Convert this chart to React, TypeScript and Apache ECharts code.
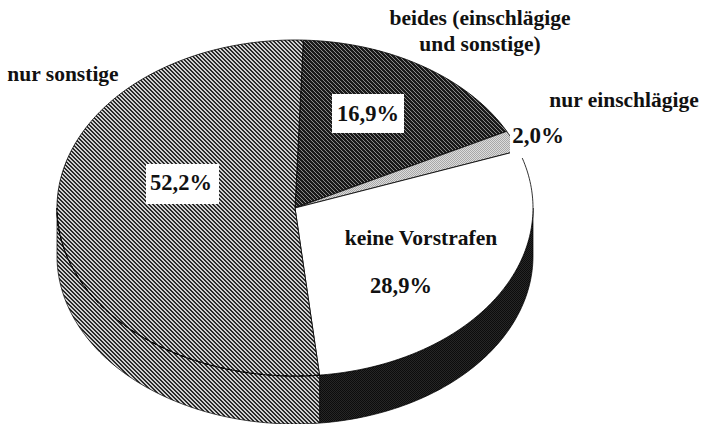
import React, { useEffect, useRef } from "react";
import * as echarts from "echarts";

const categories = ["beides (einschlägige\nund sonstige)", "nur einschlägige", "keine Vorstrafen", "nur sonstige"];
const values = [16.9, 2.0, 28.9, 52.2];

const START_DEG = 2;
const CX = 295, CY = 208, RX = 238, RY = 168, DEPTH = 48;
const FONT = '"Liberation Serif", "Times New Roman", serif';

function hatch(period: number, dark: number, a: string, b: string) {
  const c = document.createElement("canvas");
  c.width = period; c.height = period;
  const g = c.getContext("2d")!;
  for (let x = 0; x < period; x++) for (let y = 0; y < period; y++) {
    g.fillStyle = ((x - y + period) % period) < dark ? a : b;
    g.fillRect(x, y, 1, 1);
  }
  return { image: c, repeat: "repeat", imageWidth: period, imageHeight: period } as any;
}
function dots(a: string, b: string) {
  const c = document.createElement("canvas");
  c.width = 2; c.height = 2;
  const g = c.getContext("2d")!;
  g.fillStyle = b; g.fillRect(0, 0, 2, 2);
  g.fillStyle = a; g.fillRect(0, 0, 1, 1); g.fillRect(1, 1, 1, 1);
  return { image: c, repeat: "repeat", imageWidth: 2, imageHeight: 2 } as any;
}

const pt = (deg: number, dy = 0): number[] => {
  const t = (deg * Math.PI) / 180;
  return [CX + RX * Math.sin(t), CY - RY * Math.cos(t) + dy];
};
const arc = (a: number, b: number, dy = 0): number[][] => {
  const out: number[][] = [];
  const n = Math.max(2, Math.ceil(Math.abs(b - a)));
  for (let i = 0; i <= n; i++) out.push(pt(a + ((b - a) * i) / n, dy));
  return out;
};

export default function App() {
  const ref = useRef<HTMLDivElement>(null);
  useEffect(() => {
    const chart = echarts.init(ref.current!, undefined, { renderer: "svg" });
    const topFill = [
      hatch(4, 3, "#1a1a1a", "#8c8c8c"),
      dots("#a8a8a8", "#dcdcdc"),
      "#ffffff",
      hatch(4, 2, "#2a2a2a", "#d0d0d0"),
    ];
    const sideFill = [
      "#111111",
      "#111111",
      dots("#0c0c0c", "#262626"),
      hatch(4, 2, "#2a2a2a", "#d0d0d0"),
    ];
    const total = values.reduce((s, v) => s + v, 0);
    const renderItem = (params: any, api: any) => {
      const i = params.dataIndex;
      const before = values.slice(0, i).reduce((s, v) => s + v, 0);
      const a0 = START_DEG + (before / total) * 360;
      const a1 = a0 + (api.value(0) / total) * 360;
      const children: any[] = [];
      const s0 = Math.max(a0, 90), s1 = Math.min(a1, 270);
      if (s1 > s0) {
        children.push({
          type: "polygon",
          shape: { points: [...arc(s0, s1), ...arc(s1, s0, DEPTH)] },
          style: { fill: sideFill[i], stroke: "#000", lineWidth: 0.7 },
        });
      }
      children.push({
        type: "polygon",
        shape: { points: [[CX, CY], ...arc(a0, a1)] },
        style: { fill: topFill[i], stroke: "#000", lineWidth: 0.8 },
      });
      if (s1 > s0 && i === 3) {
        children.push({
          type: "polyline",
          shape: { points: arc(s0, s1) },
          style: { fill: "none", stroke: "#000", lineWidth: 1.1, lineDash: [5, 3] },
        });
      }
      return { type: "group", children };
    };
    const pct = (i: number) => values[i].toFixed(1).replace(".", ",") + "%";
    const label = (text: string, x: number, y: number, size = 21.5) => ({
      type: "text", z: 20, x, y,
      style: { text, fill: "#111", font: `bold ${size}px ${FONT}`, align: "center", verticalAlign: "middle", lineHeight: 26 },
    });
    const box = (x: number, y: number, width: number, height: number) => ({
      type: "rect", z: 10, shape: { x, y, width, height }, style: { fill: "#fff" },
    });
    chart.setOption({
      animation: false,
      backgroundColor: "#ffffff",
      series: [{
        type: "custom",
        coordinateSystem: "none",
        silent: true,
        clip: false,
        data: values.map((v, i) => ({ name: categories[i], value: [v] })),
        renderItem,
      }],
      graphic: {
        elements: [
          box(146, 164, 73, 40),
          box(332, 94, 72, 39),
          box(510, 117, 56, 41),
          label(categories[0], 480, 31),
          label(categories[1], 624, 100),
          label(categories[2], 421, 238),
          label(categories[3], 63, 74),
          label(pct(0), 368, 113, 22.5),
          label(pct(1), 538, 135, 23),
          label(pct(2), 401, 285, 22.5),
          label(pct(3), 181, 182, 22.5),
        ],
      },
    });
    return () => chart.dispose();
  }, []);
  return <div ref={ref} style={{ position: "absolute", left: 0, top: 0, width: 701, height: 424 }} />;
}
